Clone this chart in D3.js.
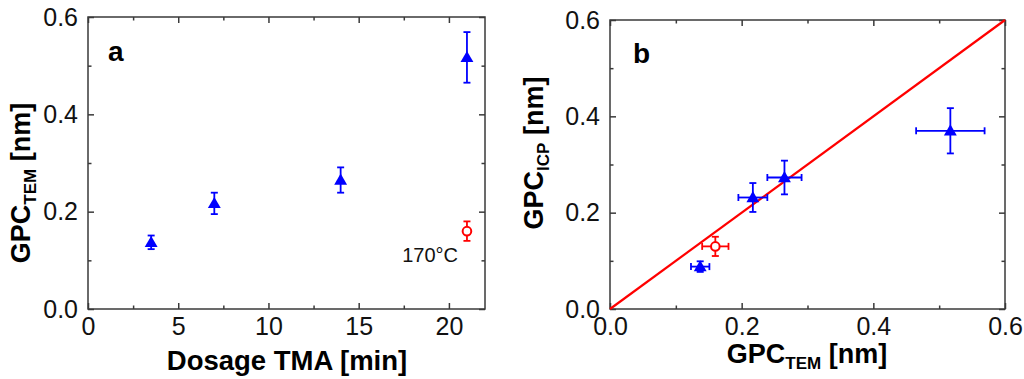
<!DOCTYPE html>
<html>
<head>
<meta charset="utf-8">
<script src="https://cdn.jsdelivr.net/npm/d3@7"></script>
<style>
  html, body { margin: 0; padding: 0; background: #fff; }
  svg { display: block; font-family: "Liberation Sans", Arial, sans-serif; }
</style>
</head>
<body>
<div id="chart"></div>
<script>
// panel a: GPC from TEM vs TMA dosage
const doseMin = [3.5, 7, 14, 21];
const gpcTem = [0.137, 0.217, 0.265, 0.517];
const gpcTemErr = [0.014, 0.022, 0.026, 0.052];
// 170 °C sample (open red circle)
const dose170 = [21];
const gpcTem170 = [0.160];
const gpcTem170Err = [0.020];

// panel b: GPC from ICP vs GPC from TEM
const gpcIcp = [0.088, 0.2315, 0.273, 0.370];
const gpcIcpErr = [0.011, 0.030, 0.035, 0.047];
const gpcIcp170 = [0.130];
const gpcIcp170Err = [0.020];

const doseTicks = [0, 5, 10, 15, 20];
const doseMinor = [2.5, 7.5, 12.5, 17.5];
const gpcTicks = [0, 0.2, 0.4, 0.6];
const gpcMinor = [0.1, 0.3, 0.5];

const W = 1024, H = 379;
const blue = '#0000ff', red = '#ff0000', axisCol = '#3a3a3a';

const svg = d3.select('#chart').append('svg')
  .attr('width', W).attr('height', H);

function drawFrame(g, x, y, xTicks, xMinor, yTicks, yMinor, xFmt, yFmt) {
  const [x0, x1] = x.range();
  const [y0, y1] = y.range();

  const styleAxis = sel => {
    sel.select('.domain').remove();
    sel.selectAll('.tick line').attr('stroke', axisCol).attr('stroke-width', 1.5);
    sel.selectAll('.tick text')
      .attr('fill', '#111')
      .style('font-size', '25px');
  };

  // major ticks with labels
  g.append('g').attr('transform', `translate(0,${y0})`)
    .call(d3.axisBottom(x).tickValues(xTicks).tickFormat(xFmt).tickSize(-6).tickPadding(8))
    .call(styleAxis);
  g.append('g').attr('transform', `translate(${x0},0)`)
    .call(d3.axisLeft(y).tickValues(yTicks).tickFormat(yFmt).tickSize(-6).tickPadding(10))
    .call(styleAxis);
  // mirrored ticks
  g.append('g').attr('transform', `translate(0,${y1})`)
    .call(d3.axisTop(x).tickValues(xTicks).tickFormat('').tickSize(-6))
    .call(styleAxis);
  g.append('g').attr('transform', `translate(${x1},0)`)
    .call(d3.axisRight(y).tickValues(yTicks).tickFormat('').tickSize(-6))
    .call(styleAxis);
  // minor ticks
  g.append('g').attr('transform', `translate(0,${y0})`)
    .call(d3.axisBottom(x).tickValues(xMinor).tickFormat('').tickSize(-3.5)).call(styleAxis);
  g.append('g').attr('transform', `translate(0,${y1})`)
    .call(d3.axisTop(x).tickValues(xMinor).tickFormat('').tickSize(-3.5)).call(styleAxis);
  g.append('g').attr('transform', `translate(${x0},0)`)
    .call(d3.axisLeft(y).tickValues(yMinor).tickFormat('').tickSize(-3.5)).call(styleAxis);
  g.append('g').attr('transform', `translate(${x1},0)`)
    .call(d3.axisRight(y).tickValues(yMinor).tickFormat('').tickSize(-3.5)).call(styleAxis);

  g.append('rect')
    .attr('x', x0).attr('y', y1)
    .attr('width', x1 - x0).attr('height', y0 - y1)
    .attr('fill', 'none').attr('stroke', axisCol).attr('stroke-width', 1.5);
}

// error bars: vertical (and optional horizontal) with caps
function errorBars(g, pts, color, cap) {
  const seg = (x1, y1, x2, y2) => g.append('line')
    .attr('x1', x1).attr('y1', y1).attr('x2', x2).attr('y2', y2)
    .attr('stroke', color).attr('stroke-width', 1.8);
  pts.forEach(p => {
    if (p.yLo !== undefined) {
      seg(p.cx, p.yLo, p.cx, p.yHi);
      seg(p.cx - cap, p.yLo, p.cx + cap, p.yLo);
      seg(p.cx - cap, p.yHi, p.cx + cap, p.yHi);
    }
    if (p.xLo !== undefined) {
      seg(p.xLo, p.cy, p.xHi, p.cy);
      seg(p.xLo, p.cy - cap, p.xLo, p.cy + cap);
      seg(p.xHi, p.cy - cap, p.xHi, p.cy + cap);
    }
  });
}

function triangles(g, pts) {
  g.selectAll(null).data(pts).enter().append('path')
    .attr('d', d3.symbol().type(d3.symbolTriangle).size(72))
    .attr('transform', d => `translate(${d.cx},${d.cy + 1})`)
    .attr('fill', blue);
}

function circles(g, pts) {
  g.selectAll(null).data(pts).enter().append('circle')
    .attr('cx', d => d.cx).attr('cy', d => d.cy).attr('r', 4.3)
    .attr('fill', '#fff').attr('stroke', red).attr('stroke-width', 2);
}

const fmt1 = d3.format('.1f');

// ---------------- panel a ----------------
const ga = svg.append('g');
const xa = d3.scaleLinear().domain([0, 22]).range([88, 485]);
const ya = d3.scaleLinear().domain([0, 0.6]).range([309, 17]);
drawFrame(ga, xa, ya, doseTicks, doseMinor, gpcTicks, gpcMinor, d3.format('d'), fmt1);

const ptsA = doseMin.map((d, i) => ({
  cx: xa(d), cy: ya(gpcTem[i]),
  yLo: ya(gpcTem[i] - gpcTemErr[i]), yHi: ya(gpcTem[i] + gpcTemErr[i])
}));
const ptsA170 = dose170.map((d, i) => ({
  cx: xa(d), cy: ya(gpcTem170[i]),
  yLo: ya(gpcTem170[i] - gpcTem170Err[i]), yHi: ya(gpcTem170[i] + gpcTem170Err[i])
}));
errorBars(ga, ptsA, blue, 3.5);
triangles(ga, ptsA);
errorBars(ga, ptsA170, red, 3.5);
circles(ga, ptsA170);

ga.append('text').attr('x', 458).attr('y', 262).attr('text-anchor', 'end')
  .style('font-size', '20px').attr('fill', '#111').text('170°C');
ga.append('text').attr('x', 108).attr('y', 61)
  .style('font-size', '28px').style('font-weight', 'bold').text('a');

ga.append('text').attr('x', 287).attr('y', 370).attr('text-anchor', 'middle')
  .style('font-size', '27.5px').style('font-weight', 'bold').text('Dosage TMA [min]');

const yTitleA = ga.append('text')
  .attr('transform', 'translate(30,183) rotate(-90)')
  .attr('text-anchor', 'middle')
  .style('font-size', '27px').style('font-weight', 'bold');
yTitleA.append('tspan').text('GPC');
yTitleA.append('tspan').attr('dy', 6).style('font-size', '17px').text('TEM');
yTitleA.append('tspan').attr('dy', -6).text(' [nm]');

// ---------------- panel b ----------------
const gb = svg.append('g');
const xb = d3.scaleLinear().domain([0, 0.6]).range([610, 1005]);
const yb = d3.scaleLinear().domain([0, 0.6]).range([309, 20]);
drawFrame(gb, xb, yb, gpcTicks, gpcMinor, gpcTicks, gpcMinor, fmt1, fmt1);

// 1:1 line
gb.append('line')
  .attr('x1', xb(0)).attr('y1', yb(0)).attr('x2', xb(0.6)).attr('y2', yb(0.6))
  .attr('stroke', red).attr('stroke-width', 2.2);

const ptsB = gpcTem.map((t, i) => ({
  cx: xb(t), cy: yb(gpcIcp[i]),
  xLo: xb(t - gpcTemErr[i]), xHi: xb(t + gpcTemErr[i]),
  yLo: yb(gpcIcp[i] - gpcIcpErr[i]), yHi: yb(gpcIcp[i] + gpcIcpErr[i])
}));
const ptsB170 = gpcTem170.map((t, i) => ({
  cx: xb(t), cy: yb(gpcIcp170[i]),
  xLo: xb(t - gpcTem170Err[i]), xHi: xb(t + gpcTem170Err[i]),
  yLo: yb(gpcIcp170[i] - gpcIcp170Err[i]), yHi: yb(gpcIcp170[i] + gpcIcp170Err[i])
}));
errorBars(gb, ptsB, blue, 3.5);
triangles(gb, ptsB);
errorBars(gb, ptsB170, red, 3.5);
circles(gb, ptsB170);

gb.append('text').attr('x', 633).attr('y', 63)
  .style('font-size', '28px').style('font-weight', 'bold').text('b');

const xTitleB = gb.append('text').attr('x', 807).attr('y', 363).attr('text-anchor', 'middle')
  .style('font-size', '27px').style('font-weight', 'bold');
xTitleB.append('tspan').text('GPC');
xTitleB.append('tspan').attr('dy', 6).style('font-size', '17px').text('TEM');
xTitleB.append('tspan').attr('dy', -6).text(' [nm]');

const yTitleB = gb.append('text')
  .attr('transform', 'translate(543,153) rotate(-90)')
  .attr('text-anchor', 'middle')
  .style('font-size', '27px').style('font-weight', 'bold');
yTitleB.append('tspan').text('GPC');
yTitleB.append('tspan').attr('dy', 6).style('font-size', '17px').text('ICP');
yTitleB.append('tspan').attr('dy', -6).text(' [nm]');
</script>
</body>
</html>
